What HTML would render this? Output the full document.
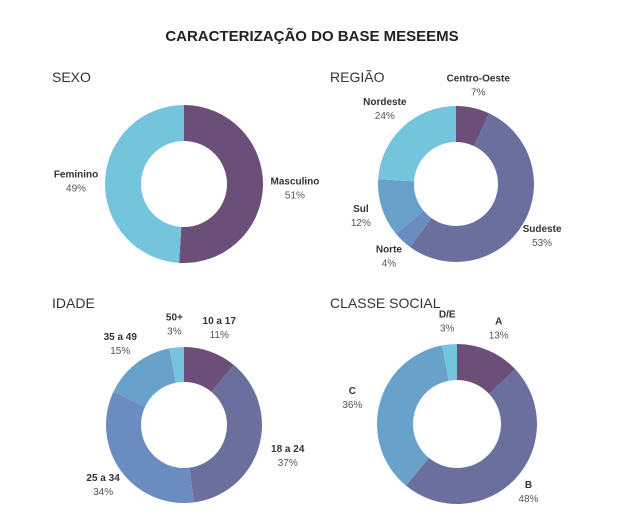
<!DOCTYPE html>
<html><head><meta charset="utf-8"><style>
body{margin:0;background:#fff;font-family:"Liberation Sans",sans-serif;}
svg text{font-family:"Liberation Sans",sans-serif;}
</style></head><body>
<svg id="c" width="624" height="523" viewBox="0 0 624 523" xmlns="http://www.w3.org/2000/svg">
<text x="312" y="41" text-anchor="middle" font-size="15" font-weight="bold" fill="#222">CARACTERIZAÇÃO DO BASE MESEEMS</text>
<text x="52" y="82" font-size="14" fill="#333">SEXO</text>
<text x="330" y="82" font-size="14" fill="#333">REGIÃO</text>
<text x="52" y="308" font-size="14" fill="#333">IDADE</text>
<text x="330" y="308" font-size="14" fill="#333">CLASSE SOCIAL</text>
</svg>
<script>
const sexoCats=["Masculino","Feminino"];
const sexoVals=[51,49];
const regiaoCats=["Centro-Oeste","Sudeste","Norte","Sul","Nordeste"];
const regiaoVals=[7,53,4,12,24];
const idadeCats=["10 a 17","18 a 24","25 a 34","35 a 49","50+"];
const idadeVals=[11,37,34,15,3];
const classeCats=["A","B","C","D/E"];
const classeVals=[13,48,36,3];

const NS="http://www.w3.org/2000/svg";
const svg=document.getElementById('c');
function mk(t,a){const e=document.createElementNS(NS,t);for(const k in a)e.setAttribute(k,a[k]);svg.appendChild(e);return e;}
function pt(cx,cy,r,f){const a=f*2*Math.PI-Math.PI/2;return [cx+r*Math.cos(a),cy+r*Math.sin(a)];}
function donut(key,cats,vals,colors,cx,cy,R,r,labelPos){
  const tot=vals.reduce((a,b)=>a+b,0);let acc=0;
  vals.forEach((v,i)=>{
    const f0=acc/tot,f1=(acc+v)/tot;acc+=v;
    const [x0,y0]=pt(cx,cy,R,f0),[x1,y1]=pt(cx,cy,R,f1),[x2,y2]=pt(cx,cy,r,f1),[x3,y3]=pt(cx,cy,r,f0);
    const lg=(f1-f0)>0.5?1:0;
    const p=mk('path',{d:`M${x0},${y0}A${R},${R} 0 ${lg} 1 ${x1},${y1}L${x2},${y2}A${r},${r} 0 ${lg} 0 ${x3},${y3}Z`,fill:colors[i]});
    
    
    const fm=(f0+f1)/2;const [lx,ly]=pt(cx,cy,R+labelPos[i],fm);
    const t1=mk('text',{x:lx,y:ly-3,'text-anchor':'middle','font-size':'10','font-weight':'bold',fill:'#333'});
    t1.textContent=cats[i];
    
    
    const t2=mk('text',{x:lx,y:ly+11,'text-anchor':'middle','font-size':'10',fill:'#555'});
    t2.textContent=vals[i]+'%';
    
    
  });
}
const DP="#6b4f78",SL="#6b6f9e",BL="#6a8cc0",MB="#68a2cb",CY="#74c5db";
donut('sexo',sexoCats,sexoVals,[DP,CY],184,184,79,43,[32,29]);
donut('regiao',regiaoCats,regiaoVals,[DP,SL,BL,MB,CY],456,184,78,42,[24,22,20,22,26]);
donut('idade',idadeCats,idadeVals,[DP,SL,BL,MB,CY],184,425,78,43,[26,30,22,26,24]);
donut('classe',classeCats,classeVals,[DP,SL,MB,CY],457,424,80,44,[25,18,28,24]);
</script>
</body></html>
